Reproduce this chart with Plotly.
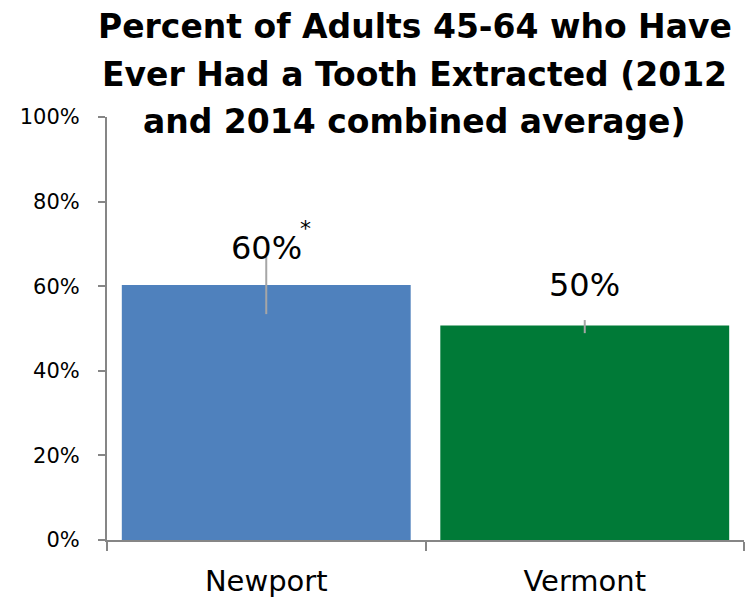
import plotly.graph_objects as go

categories = ["Newport", "Vermont"]
values = [60.3, 50.7]
err_plus = [6.7, 1.3]
err_minus = [6.9, 1.8]
labels = ["60%", "50%"]
bar_colors = ["#4F81BD", "#007A37"]
title_lines = [
    "Percent of Adults 45-64 who Have",
    "Ever Had a Tooth Extracted (2012",
    "and 2014 combined average)",
]
y_ticks = [0, 20, 40, 60, 80, 100]
y_tick_text = ["0%", "20%", "40%", "60%", "80%", "100%"]

FONT = "DejaVu Sans"

fig = go.Figure()
fig.add_trace(go.Bar(
    x=categories, y=values,
    marker=dict(color=bar_colors, line=dict(width=0)),
    error_y=dict(type="data", symmetric=False, array=err_plus, arrayminus=err_minus,
                 color="#A6A6A6", thickness=2, width=0),
    hoverinfo="skip",
))

label_shift = [17, 21]
for c, v, t, s in zip(categories, values, labels, label_shift):
    fig.add_annotation(x=c, y=v, text=t, showarrow=False, yanchor="bottom", yshift=s,
                       borderpad=0, font=dict(family=FONT, size=32, color="#000000"))
fig.add_annotation(x=categories[0], y=values[0], text="*", showarrow=False,
                   xanchor="left", xshift=33, yshift=56, borderpad=0,
                   font=dict(family=FONT, size=22, color="#000000"))

title_y = [1.2128, 1.0994, 0.9882]
for line, yy in zip(title_lines, title_y):
    fig.add_annotation(xref="paper", yref="paper", x=0.4835, y=yy, text="<b>" + line + "</b>",
                       showarrow=False, xanchor="center", yanchor="middle",
                       font=dict(family=FONT, size=33, color="#000000"))

fig.update_layout(
    width=752, height=600,
    margin=dict(l=107, r=8, t=117, b=60, autoexpand=False),
    paper_bgcolor="white", plot_bgcolor="white",
    bargap=0.093,
    showlegend=False,
    font=dict(family=FONT, color="#000000"),
)
fig.update_yaxes(
    range=[0, 100], tickmode="array", tickvals=y_ticks, ticktext=y_tick_text,
    showgrid=False, zeroline=False, automargin=False,
    showline=True, linecolor="#868686", linewidth=2,
    ticks="outside", ticklen=7, tickwidth=2, tickcolor="#868686",
    tickfont=dict(family=FONT, size=21, color="#000000"),
    ticklabelstandoff=14,
)
fig.update_xaxes(
    showgrid=False, showline=True, linecolor="#868686", linewidth=2, automargin=False,
    ticks="outside", tickson="boundaries", ticklen=9, tickwidth=2, tickcolor="#868686",
    tickfont=dict(family=FONT, size=29, color="#000000"),
    ticklabelstandoff=14,
)

fig.write_html("out.html", config={"displayModeBar": False},
               post_script="document.body.style.margin='0';")
